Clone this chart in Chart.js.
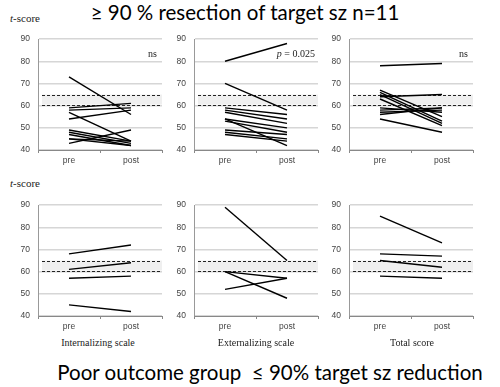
<!DOCTYPE html>
<html>
<head>
<meta charset="utf-8">
<script src="https://cdn.jsdelivr.net/npm/chart.js@4/dist/chart.umd.min.js"></script>
<style>
  body { margin: 0; background: #fff; }
  #wrap { position: relative; width: 500px; height: 387px; overflow: hidden; }
  #wrap canvas { position: absolute; }
  .txt { position: absolute; white-space: nowrap; color: #000; }
  .big { font-family: Lato, "Open Sans", sans-serif; font-size: 20.5px; line-height: 24px; }
  .serif { font-family: "Liberation Serif", "DejaVu Serif", serif; font-size: 10px; color: #222; }
</style>
</head>
<body>
<div id="wrap">
  <div class="txt big" style="left:245px; top:0px; transform:translateX(-50%);">≥ 90 % resection of target sz n=11</div>
  <div class="txt serif" style="left:10px; top:12px; font-size:11px;"><i>t</i>-score</div>
  <div class="txt serif" style="left:10px; top:177px; font-size:11px;"><i>t</i>-score</div>
  <canvas id="c1"></canvas>
  <canvas id="c2"></canvas>
  <canvas id="c3"></canvas>
  <canvas id="c4"></canvas>
  <canvas id="c5"></canvas>
  <canvas id="c6"></canvas>
  <div class="txt serif" style="left:98px; top:337px; transform:translateX(-50%);">Internalizing scale</div>
  <div class="txt serif" style="left:256px; top:337px; transform:translateX(-50%);">Externalizing scale</div>
  <div class="txt serif" style="left:412px; top:337px; transform:translateX(-50%);">Total score</div>
  <div class="txt big" style="left:270px; top:360px; transform:translateX(-50%);">Poor outcome group &nbsp;≤ 90% target sz reduction</div>
</div>
<script>
// categories
const timePoints = ['pre', 'post'];

// good outcome group (>= 90 % resection), one [pre, post] pair per patient
const internalGood = [[73, 56], [59, 61], [58, 59], [54, 58], [57, 44], [49, 44], [48, 43], [47, 42], [45, 44], [43, 49], [45, 42]];
const externalGood = [[80, 88], [70, 58], [59, 56], [58, 54], [57, 52], [54, 50], [53, 48], [49, 47], [48, 45], [47, 44], [54, 42]];
const totalGood = [[78, 79], [67, 55], [66, 53], [65, 52], [64, 65], [63, 51], [58, 59], [57, 58], [56, 59], [54, 48], [59, 57]];

// poor outcome group
const internalPoor = [[68, 72], [61, 64], [57, 58], [45, 42]];
const externalPoor = [[89, 65], [60, 57], [52, 57], [60, 48]];
const totalPoor = [[85, 73], [68, 67], [65, 62], [58, 57]];

// shaded borderline band and axis ticks
const bandLow = 60.5;
const bandHigh = 65;
const yTicks = [40, 50, 60, 70, 80, 90];

const notes = ['ns', 'p = 0.025', 'ns', '', '', ''];

const bandPlugin = {
    id: 'band',
    beforeDatasetsDraw(chart) {
        const ctx = chart.ctx;
        const area = chart.chartArea;
        const y = chart.scales.y;
        const yHigh = y.getPixelForValue(bandHigh);
        const yLow = y.getPixelForValue(bandLow);
        const x0 = area.left + 4;
        ctx.save();
        ctx.fillStyle = '#efefef';
        ctx.fillRect(x0, yHigh, area.right - x0, yLow - yHigh);
        ctx.strokeStyle = '#222';
        ctx.lineWidth = 1;
        ctx.setLineDash([3, 2]);
        [yHigh, yLow].forEach(function (py) {
            ctx.beginPath();
            ctx.moveTo(x0, Math.round(py) + 0.5);
            ctx.lineTo(area.right, Math.round(py) + 0.5);
            ctx.stroke();
        });
        ctx.restore();
    },
    afterDraw(chart) {
        const note = chart.options.plugins.band.note;
        if (!note) return;
        const ctx = chart.ctx;
        const area = chart.chartArea;
        const py = chart.scales.y.getPixelForValue(83);
        ctx.save();
        ctx.fillStyle = '#222';
        ctx.textBaseline = 'middle';
        ctx.textAlign = 'right';
        if (note.indexOf('p') === 0) {
            ctx.font = '10px "Liberation Serif", serif';
            const rest = note.substring(1);
            const w = ctx.measureText(rest).width;
            ctx.fillText(rest, area.right - 3, py);
            ctx.font = 'italic 10px "Liberation Serif", serif';
            ctx.fillText('p', area.right - 3 - w, py);
        } else {
            ctx.font = '10px "Liberation Serif", serif';
            ctx.fillText(note, area.right - 5, py);
        }
        ctx.restore();
    }
};

function makeDatasets(pairs) {
    return pairs.map(function (p) {
        return {
            data: p,
            borderColor: '#000',
            borderWidth: 1.4,
            pointRadius: 0,
            fill: false,
            tension: 0
        };
    });
}

function createPanel(id, left, top, pairs, note) {
    const el = document.getElementById(id);
    el.style.left = left + 'px';
    el.style.top = top + 'px';
    el.width = 158;
    el.height = 144;
    el.style.width = '158px';
    el.style.height = '144px';

    return new Chart(el.getContext('2d'), {
        type: 'line',
        data: {
            labels: timePoints,
            datasets: makeDatasets(pairs)
        },
        options: {
            responsive: false,
            animation: false,
            devicePixelRatio: 1,
            layout: { padding: { top: 6, right: 4, left: 0, bottom: 0 } },
            plugins: {
                legend: { display: false },
                tooltip: { enabled: false },
                band: { note: note }
            },
            scales: {
                x: {
                    offset: true,
                    afterFit: function (s) { s.height = 20; },
                    grid: { offset: true, drawOnChartArea: false, tickLength: 3, color: '#888' },
                    border: { color: '#888' },
                    ticks: { color: '#444', padding: 3, font: { family: 'Liberation Sans', size: 8.5 } }
                },
                y: {
                    min: 40,
                    max: 90,
                    afterFit: function (s) { s.width = 30; },
                    afterBuildTicks: function (s) { s.ticks = yTicks.map(function (v) { return { value: v }; }); },
                    grid: { color: '#d6d6d6', lineWidth: 1.5, drawTicks: false },
                    border: { color: '#999' },
                    ticks: { color: '#444', padding: 8, font: { family: 'Liberation Sans', size: 8.5 } }
                }
            }
        },
        plugins: [bandPlugin]
    });
}

createPanel('c1', 8, 26, internalGood, notes[0]);
createPanel('c2', 164, 26, externalGood, notes[1]);
createPanel('c3', 319, 26, totalGood, notes[2]);
createPanel('c4', 8, 192, internalPoor, notes[3]);
createPanel('c5', 164, 192, externalPoor, notes[4]);
createPanel('c6', 319, 192, totalPoor, notes[5]);
</script>
</body>
</html>
